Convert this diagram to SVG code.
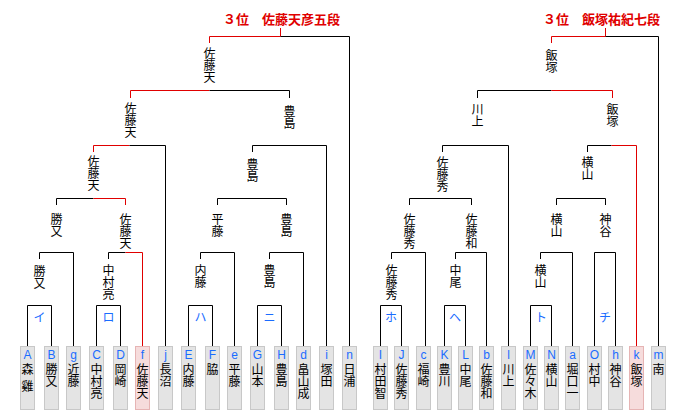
<svg xmlns="http://www.w3.org/2000/svg" width="700" height="411" viewBox="0 0 700 411">
<style>
.l{fill:none;stroke:#000;stroke-width:1}
.r{fill:none;stroke:#e00000;stroke-width:1}
.v{font-family:"Noto Sans CJK JP","Noto Sans CJK SC",sans-serif;font-size:12px;fill:#000;writing-mode:vertical-rl;text-orientation:upright;text-anchor:start}
.k{font-family:"Noto Sans CJK JP","Noto Sans CJK SC",sans-serif;font-size:12px;fill:#1a6cff;text-anchor:middle}
.c{font-family:"Liberation Sans",sans-serif;font-size:12px;fill:#1a6cff;text-anchor:middle}
.ttl{font-family:"Noto Sans CJK JP","Noto Sans CJK SC",sans-serif;font-size:13px;font-weight:bold;fill:#e00000}
.b{fill:#e4e4e4;stroke:#c8c8c8;stroke-width:1}
.bw{fill:#f6dcdc;stroke:#e6b4b4;stroke-width:1}
</style>
<rect width="700" height="411" fill="#fff"/>
<g id="connectors">
<path class="l" d="M27.5,346V305.5H51.5V346M96.5,346V305.5H120.5V346M188.5,346V305.5H212.5V346M257.5,346V305.5H281.5V346"/>
<path class="l" d="M39.5,259V252.5H73.5V346M108.5,259V252.5H125.5M200.5,259V252.5H234.5V346M269.5,259V252.5H303.5V346"/>
<path class="r" d="M125.5,252.5H142.5V346"/>
<path class="l" d="M56.5,205V198.5H93.5M217.5,205V198.5H286.5V205"/>
<path class="r" d="M93.5,198.5H125.5V205"/>
<path class="r" d="M93.5,152V145.5H129.5"/>
<path class="l" d="M129.5,145.5H165.5V346M252.5,152V145.5H326.5V346"/>
<path class="r" d="M130.5,98V90.5H209.5"/>
<path class="l" d="M209.5,90.5H289.5V98"/>
<path class="r" d="M209.5,43V36.5H280.5M280.5,36.5V28"/>
<path class="l" d="M280.5,36.5H349.5V346"/>
<path class="l" d="M380.5,346V305.5H401.5V346M444.5,346V305.5H465.5V346M530.5,346V305.5H551.5V346M594.5,346V252.5H615.5V346"/>
<path class="l" d="M391.5,259V252.5H425.5V346M455.5,259V252.5H486.5V346M540.5,259V252.5H572.5V346"/>
<path class="l" d="M409.5,205V198.5H471.5V205M556.5,205V198.5H605.5V205"/>
<path class="l" d="M442.5,152V145.5H508.5V346M587.5,152V145.5H611.5"/>
<path class="r" d="M611.5,145.5H636.5V346"/>
<path class="l" d="M477.5,98V90.5H551.5"/>
<path class="r" d="M551.5,90.5H612.5V98"/>
<path class="r" d="M551.5,43V36.5H605.5M605.5,36.5V28"/>
<path class="l" d="M605.5,36.5H658.5V346"/>
</g>
<g id="title-left"><text class="ttl" x="223" y="24">３位　佐藤天彦五段</text></g>
<g id="title-right"><text class="ttl" x="543" y="24">３位　飯塚祐紀七段</text></g>
<g id="block-i"><text class="k" x="39.5" y="322">イ</text></g>
<g id="block-ro"><text class="k" x="108.5" y="322">ロ</text></g>
<g id="block-ha"><text class="k" x="200.5" y="322">ハ</text></g>
<g id="block-ni"><text class="k" x="269.5" y="322">ニ</text></g>
<g id="block-ho"><text class="k" x="391" y="322">ホ</text></g>
<g id="block-he"><text class="k" x="455" y="322">ヘ</text></g>
<g id="block-to"><text class="k" x="541" y="322">ト</text></g>
<g id="block-chi"><text class="k" x="605" y="322">チ</text></g>
<g id="w-l6"><text class="v" x="209.5" y="47">佐藤天</text></g>
<g id="w-r6"><text class="v" x="551.5" y="49">飯塚</text></g>
<g id="w-l5a"><text class="v" x="130.5" y="102">佐藤天</text></g>
<g id="w-l5b"><text class="v" x="289.5" y="105">豊島</text></g>
<g id="w-r5a"><text class="v" x="477.5" y="103">川上</text></g>
<g id="w-r5b"><text class="v" x="612.5" y="103">飯塚</text></g>
<g id="w-l4a"><text class="v" x="93.5" y="155">佐藤天</text></g>
<g id="w-l4b"><text class="v" x="252.5" y="158">豊島</text></g>
<g id="w-r4a"><text class="v" x="442.5" y="156">佐藤秀</text></g>
<g id="w-r4b"><text class="v" x="587.5" y="156">横山</text></g>
<g id="w-l3a"><text class="v" x="56.5" y="213">勝又</text></g>
<g id="w-l3b"><text class="v" x="125.5" y="213">佐藤天</text></g>
<g id="w-l3c"><text class="v" x="217.5" y="213">平藤</text></g>
<g id="w-l3d"><text class="v" x="286.5" y="213">豊島</text></g>
<g id="w-r3a"><text class="v" x="409.5" y="213">佐藤秀</text></g>
<g id="w-r3b"><text class="v" x="471.5" y="213">佐藤和</text></g>
<g id="w-r3c"><text class="v" x="556.5" y="213">横山</text></g>
<g id="w-r3d"><text class="v" x="605.5" y="213">神谷</text></g>
<g id="w-l2a"><text class="v" x="39.5" y="265">勝又</text></g>
<g id="w-l2b"><text class="v" x="108.5" y="264">中村亮</text></g>
<g id="w-l2c"><text class="v" x="200.5" y="264">内藤</text></g>
<g id="w-l2d"><text class="v" x="269.5" y="264">豊島</text></g>
<g id="w-r2a"><text class="v" x="391.5" y="264">佐藤秀</text></g>
<g id="w-r2b"><text class="v" x="455.5" y="264">中尾</text></g>
<g id="w-r2c"><text class="v" x="540.5" y="264">横山</text></g>
<g id="leaf-A"><rect class="b" x="20.5" y="346.5" width="14" height="63"/><text class="c" x="27.5" y="359">A</text><text class="v" x="27.5" y="363">森<tspan dy="5">雞</tspan></text></g>
<g id="leaf-B"><rect class="b" x="44.5" y="346.5" width="14" height="63"/><text class="c" x="51.5" y="359">B</text><text class="v" x="51.5" y="363">勝又</text></g>
<g id="leaf-g"><rect class="b" x="66.5" y="346.5" width="14" height="63"/><text class="c" x="73.5" y="359">g</text><text class="v" x="73.5" y="363">近藤</text></g>
<g id="leaf-C"><rect class="b" x="89.5" y="346.5" width="14" height="63"/><text class="c" x="96.5" y="359">C</text><text class="v" x="96.5" y="363">中村亮</text></g>
<g id="leaf-D"><rect class="b" x="113.5" y="346.5" width="14" height="63"/><text class="c" x="120.5" y="359">D</text><text class="v" x="120.5" y="363">岡崎</text></g>
<g id="leaf-f"><rect class="bw" x="135.5" y="346.5" width="14" height="63"/><text class="c" x="142.5" y="359">f</text><text class="v" x="142.5" y="363">佐藤天</text></g>
<g id="leaf-j"><rect class="b" x="158.5" y="346.5" width="14" height="63"/><text class="c" x="165.5" y="359">j</text><text class="v" x="165.5" y="363">長沼</text></g>
<g id="leaf-E"><rect class="b" x="181.5" y="346.5" width="14" height="63"/><text class="c" x="188.5" y="359">E</text><text class="v" x="188.5" y="363">内藤</text></g>
<g id="leaf-F"><rect class="b" x="205.5" y="346.5" width="14" height="63"/><text class="c" x="212.5" y="359">F</text><text class="v" x="212.5" y="363">脇</text></g>
<g id="leaf-e"><rect class="b" x="227.5" y="346.5" width="14" height="63"/><text class="c" x="234.5" y="359">e</text><text class="v" x="234.5" y="363">平藤</text></g>
<g id="leaf-G"><rect class="b" x="250.5" y="346.5" width="14" height="63"/><text class="c" x="257.5" y="359">G</text><text class="v" x="257.5" y="363">山本</text></g>
<g id="leaf-H"><rect class="b" x="274.5" y="346.5" width="14" height="63"/><text class="c" x="281.5" y="359">H</text><text class="v" x="281.5" y="363">豊島</text></g>
<g id="leaf-d"><rect class="b" x="296.5" y="346.5" width="14" height="63"/><text class="c" x="303.5" y="359">d</text><text class="v" x="303.5" y="363">畠山成</text></g>
<g id="leaf-i"><rect class="b" x="319.5" y="346.5" width="14" height="63"/><text class="c" x="326.5" y="359">i</text><text class="v" x="326.5" y="363">塚田</text></g>
<g id="leaf-n"><rect class="b" x="342.5" y="346.5" width="14" height="63"/><text class="c" x="349.5" y="359">n</text><text class="v" x="349.5" y="363">日浦</text></g>
<g id="leaf-I"><rect class="b" x="373.5" y="346.5" width="14" height="63"/><text class="c" x="380.5" y="359">I</text><text class="v" x="380.5" y="363">村田智</text></g>
<g id="leaf-J"><rect class="b" x="394.5" y="346.5" width="14" height="63"/><text class="c" x="401.5" y="359">J</text><text class="v" x="401.5" y="363">佐藤秀</text></g>
<g id="leaf-c"><rect class="b" x="416.5" y="346.5" width="14" height="63"/><text class="c" x="423.5" y="359">c</text><text class="v" x="423.5" y="363">福崎</text></g>
<g id="leaf-K"><rect class="b" x="437.5" y="346.5" width="14" height="63"/><text class="c" x="444.5" y="359">K</text><text class="v" x="444.5" y="363">豊川</text></g>
<g id="leaf-L"><rect class="b" x="458.5" y="346.5" width="14" height="63"/><text class="c" x="465.5" y="359">L</text><text class="v" x="465.5" y="363">中尾</text></g>
<g id="leaf-b"><rect class="b" x="479.5" y="346.5" width="14" height="63"/><text class="c" x="486.5" y="359">b</text><text class="v" x="486.5" y="363">佐藤和</text></g>
<g id="leaf-l"><rect class="b" x="501.5" y="346.5" width="14" height="63"/><text class="c" x="508.5" y="359">l</text><text class="v" x="508.5" y="363">川上</text></g>
<g id="leaf-M"><rect class="b" x="523.5" y="346.5" width="14" height="63"/><text class="c" x="530.5" y="359">M</text><text class="v" x="530.5" y="363">佐々木</text></g>
<g id="leaf-N"><rect class="b" x="544.5" y="346.5" width="14" height="63"/><text class="c" x="551.5" y="359">N</text><text class="v" x="551.5" y="363">横山</text></g>
<g id="leaf-a"><rect class="b" x="565.5" y="346.5" width="14" height="63"/><text class="c" x="572.5" y="359">a</text><text class="v" x="572.5" y="363">堀口一</text></g>
<g id="leaf-O"><rect class="b" x="587.5" y="346.5" width="14" height="63"/><text class="c" x="594.5" y="359">O</text><text class="v" x="594.5" y="363">村中</text></g>
<g id="leaf-h"><rect class="b" x="608.5" y="346.5" width="14" height="63"/><text class="c" x="615.5" y="359">h</text><text class="v" x="615.5" y="363">神谷</text></g>
<g id="leaf-k"><rect class="bw" x="629.5" y="346.5" width="14" height="63"/><text class="c" x="636.5" y="359">k</text><text class="v" x="636.5" y="363">飯塚</text></g>
<g id="leaf-m"><rect class="b" x="651.5" y="346.5" width="14" height="63"/><text class="c" x="658.5" y="359">m</text><text class="v" x="658.5" y="363">南</text></g>
</svg>
